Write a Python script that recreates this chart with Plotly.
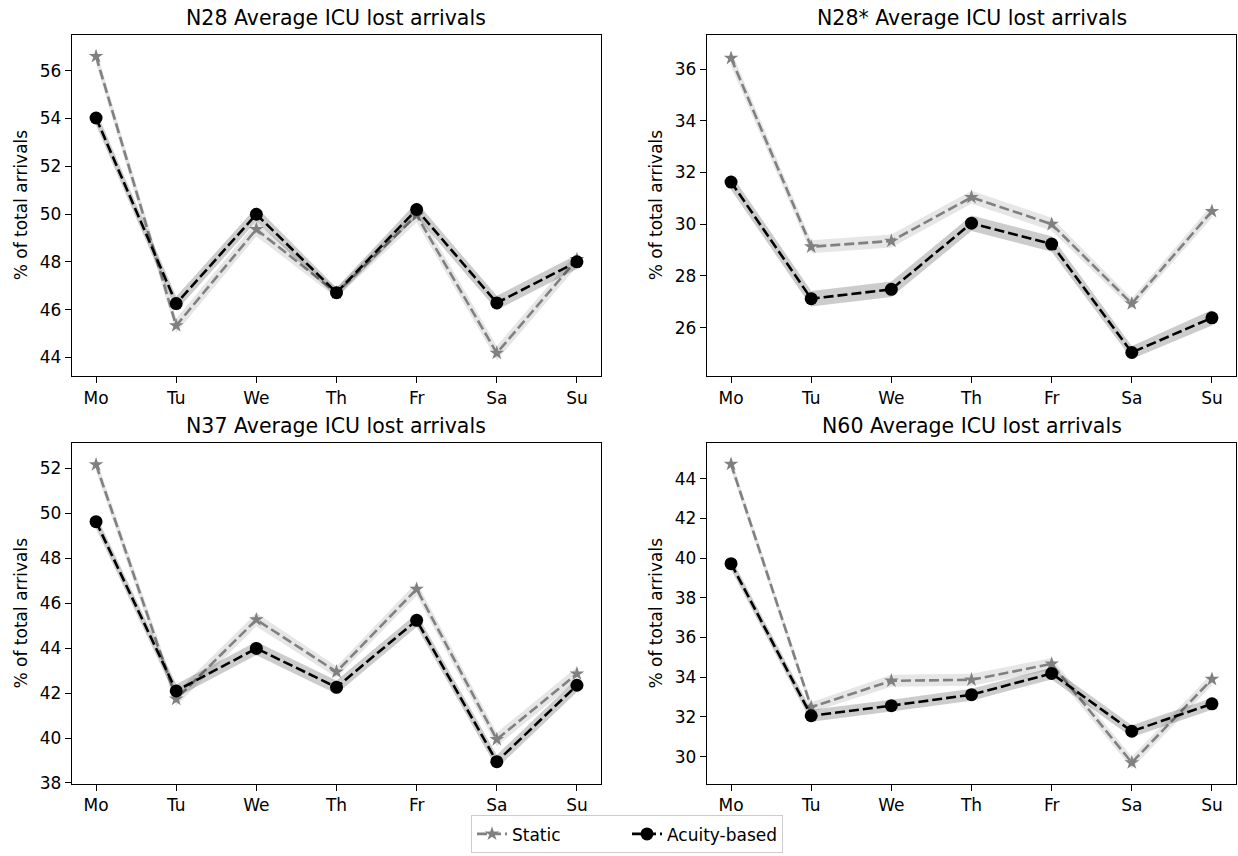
import plotly.graph_objects as go
from plotly.subplots import make_subplots

days = ["Mo", "Tu", "We", "Th", "Fr", "Sa", "Su"]
titles = ["N28 Average ICU lost arrivals", "N28* Average ICU lost arrivals",
          "N37 Average ICU lost arrivals", "N60 Average ICU lost arrivals"]

# Static (mean) per panel
static_n28 = [56.6, 45.33, 49.36, 46.7, 49.95, 44.18, 48.1]
static_n28s = [36.42, 29.13, 29.35, 31.04, 30.0, 26.93, 30.5]
static_n37 = [52.17, 41.74, 45.27, 42.95, 46.63, 39.94, 42.86]
static_n60 = [44.73, 32.49, 33.82, 33.87, 34.67, 29.7, 33.9]

# Acuity-based (mean) per panel
acuity_n28 = [54.02, 46.25, 49.99, 46.71, 50.19, 46.28, 48.0]
acuity_n28s = [31.63, 27.12, 27.48, 30.04, 29.23, 25.04, 26.38]
acuity_n37 = [49.63, 42.1, 43.99, 42.26, 45.24, 38.95, 42.35]
acuity_n60 = [39.72, 32.06, 32.57, 33.12, 34.19, 31.28, 32.66]

# Band half-widths (read from shaded areas)
static_band_n28 = [0.3, 0.3, 0.3, 0.2, 0.3, 0.3, 0.3]
static_band_n28s = [0.3, 0.25, 0.25, 0.25, 0.25, 0.2, 0.25]
static_band_n37 = [0.3, 0.3, 0.3, 0.25, 0.3, 0.3, 0.3]
static_band_n60 = [0.3, 0.25, 0.3, 0.3, 0.3, 0.3, 0.3]
acuity_band_n28 = [0.3, 0.3, 0.3, 0.2, 0.3, 0.3, 0.3]
acuity_band_n28s = [0.3, 0.3, 0.3, 0.3, 0.3, 0.25, 0.3]
acuity_band_n37 = [0.3, 0.3, 0.3, 0.3, 0.3, 0.3, 0.3]
acuity_band_n60 = [0.3, 0.3, 0.3, 0.3, 0.3, 0.3, 0.3]

y_ranges = [[43.22, 57.51], [24.13, 37.33], [37.97, 53.12], [28.64, 45.78]]
y_ticks = [[44, 46, 48, 50, 52, 54, 56], [26, 28, 30, 32, 34, 36],
           [38, 40, 42, 44, 46, 48, 50, 52], [30, 32, 34, 36, 38, 40, 42, 44]]

panels = [
    (static_n28, static_band_n28, acuity_n28, acuity_band_n28),
    (static_n28s, static_band_n28s, acuity_n28s, acuity_band_n28s),
    (static_n37, static_band_n37, acuity_n37, acuity_band_n37),
    (static_n60, static_band_n60, acuity_n60, acuity_band_n60),
]

W, H = 1238, 856
FONT = "DejaVu Sans"
TICK = 17
xs = list(range(len(days)))

fig = make_subplots(rows=2, cols=2)

def band(fig, mean, hw, color, row, col):
    upper = [m + h for m, h in zip(mean, hw)]
    lower = [m - h for m, h in zip(mean, hw)]
    fig.add_trace(go.Scatter(x=xs, y=upper, mode="lines", line=dict(width=0, color=color),
                             showlegend=False, hoverinfo="skip"), row=row, col=col)
    fig.add_trace(go.Scatter(x=xs, y=lower, mode="lines", line=dict(width=0, color=color),
                             fill="tonexty", fillcolor=color, showlegend=False,
                             hoverinfo="skip"), row=row, col=col)

for i, (s, sb, a, ab) in enumerate(panels):
    row, col = i // 2 + 1, i % 2 + 1
    band(fig, s, sb, "rgba(128,128,128,0.2)", row, col)
    fig.add_trace(go.Scatter(x=xs, y=s, mode="lines+markers", name="Static",
                             line=dict(color="#808080", width=2.6, dash="10px,4px"),
                             marker=dict(symbol="star", size=11, color="#808080"),
                             showlegend=(i == 0)), row=row, col=col)
    band(fig, a, ab, "rgba(0,0,0,0.2)", row, col)
    fig.add_trace(go.Scatter(x=xs, y=a, mode="lines+markers", name="Acuity-based",
                             line=dict(color="black", width=2.6, dash="10px,4px"),
                             marker=dict(symbol="circle", size=13, color="black"),
                             showlegend=(i == 0)), row=row, col=col)

xdom = [[72 / W, 601 / W], [707 / W, 1236 / W]]
ydom = [[1 - 380 / H, 1 - 35 / H], [1 - 792 / H, 1 - 448 / H]]

annotations = []
for i in range(4):
    r, c = i // 2, i % 2
    xa = "xaxis" if i == 0 else f"xaxis{i+1}"
    ya = "yaxis" if i == 0 else f"yaxis{i+1}"
    fig.layout[xa].update(domain=xdom[c], range=[-0.3, 6.3], tickmode="array",
                          tickvals=xs, ticktext=days, showline=True, mirror=True,
                          linecolor="black", linewidth=1.3, ticks="outside", ticklen=6,
                          tickwidth=1.2, tickcolor="black", showgrid=False, zeroline=False,
                          tickfont=dict(family=FONT, size=TICK, color="black"))
    fig.layout[ya].update(domain=ydom[r], range=y_ranges[i], tickmode="array",
                          tickvals=y_ticks[i], showline=True, mirror=True,
                          linecolor="black", linewidth=1.3, ticks="outside", ticklen=6,
                          tickwidth=1.2, tickcolor="black", showgrid=False, zeroline=False,
                          tickfont=dict(family=FONT, size=TICK, color="black"))
    cx = (xdom[c][0] + xdom[c][1]) / 2
    ty = 1 - (18 if r == 0 else 431) / H
    annotations.append(dict(text=titles[i], x=cx, y=ty, xref="paper", yref="paper",
                            xanchor="center", yanchor="middle", showarrow=False,
                            font=dict(family=FONT, size=20.5, color="black")))
    lx = (21 if c == 0 else 656) / W
    ly = (ydom[r][0] + ydom[r][1]) / 2
    annotations.append(dict(text="% of total arrivals", x=lx, y=ly, xref="paper",
                            yref="paper", xanchor="center", yanchor="middle",
                            textangle=-90, showarrow=False,
                            font=dict(family=FONT, size=TICK, color="black")))

fig.update_layout(
    width=W, height=H, margin=dict(l=0, r=0, t=0, b=0),
    plot_bgcolor="white", paper_bgcolor="white",
    annotations=annotations,
    legend=dict(orientation="h", x=627 / W, xanchor="center", y=1 - 824 / H,
                yanchor="top", bordercolor="#cccccc", borderwidth=1,
                bgcolor="white", font=dict(family=FONT, size=TICK, color="black"),
                traceorder="normal", itemwidth=30, entrywidth=110, entrywidthmode="pixels"),
    font=dict(family=FONT),
)

fig.write_html("out.html")
